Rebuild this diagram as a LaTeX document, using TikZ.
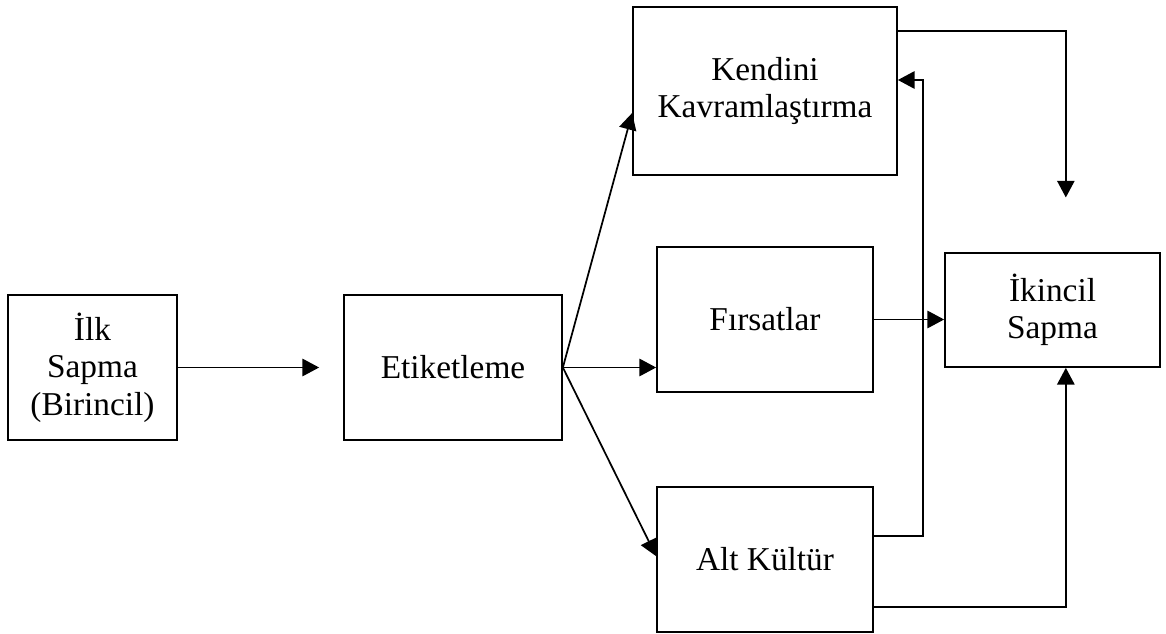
\documentclass[tikz,border=0pt]{standalone}
\usepackage{fontspec}
\setmainfont{Liberation Serif}
\usepackage{tikz}
\usetikzlibrary{arrows.meta,positioning}

\begin{document}
\begin{tikzpicture}[
    	x=0.75pt, y=-0.75pt,
    	box/.style={draw, line width=1.3pt, inner sep=0pt, align=center,
    	  font=\fontsize{25pt}{28pt}\selectfont},
    	arr/.style={line width=1.3pt, -{Triangle[length=12.5pt,width=13pt]}}
	]
	  \useasboundingbox (0,0) rectangle (1166,634);
      \node[box, minimum width=126.75pt, minimum height=108.75pt] (ilk) at (92.5,367.5) {İlk\\Sapma\\(Birincil)};
      \node[box, minimum width=163.5pt, minimum height=108.75pt] (etiket) at (453,367.5) {Etiketleme};
      \node[box, minimum width=198pt, minimum height=126pt] (kendini) at (765,91) {Kendini\\Kavramlaştırma};
      \node[box, minimum width=162pt, minimum height=108.75pt] (firsat) at (765,319.5) {Fırsatlar};
      \node[box, minimum width=162pt, minimum height=108.75pt] (altkultur) at (765,559.5) {Alt Kültür};
      \node[box, minimum width=161.25pt, minimum height=85.5pt] (ikincil) at (1052.5,310) {İkincil\\Sapma};
      % birincil sapmadan etiketlemeye
      \draw[arr, shorten >=18pt] (ilk) -- (etiket);
      % etiketlemenin sonuclari
      \draw[arr] (etiket.east) -- ([yshift=-16.5pt]kendini.west);
      \draw[arr] (etiket.east) -- (etiket.east -| firsat.west);
      \draw[arr] (etiket.east) -- ([yshift=2.5pt]altkultur.west);
      % ikincil sapmaya
      \draw[arr] ([yshift=-18.75pt]kendini.north east) -| ([xshift=10pt,yshift=41pt]ikincil.north);
      \draw[arr] (firsat.east) -- (firsat.east -| ikincil.west);
      \draw[arr] ([yshift=-35.5pt]altkultur.east) -| ([xshift=10pt]ikincil.south);
      % alt kulturden geri
      \draw[arr] ([yshift=17.5pt]altkultur.east) -- ++(36.75pt,0) |- ([yshift=8.25pt]kendini.east);
    \end{tikzpicture}
\end{document}
